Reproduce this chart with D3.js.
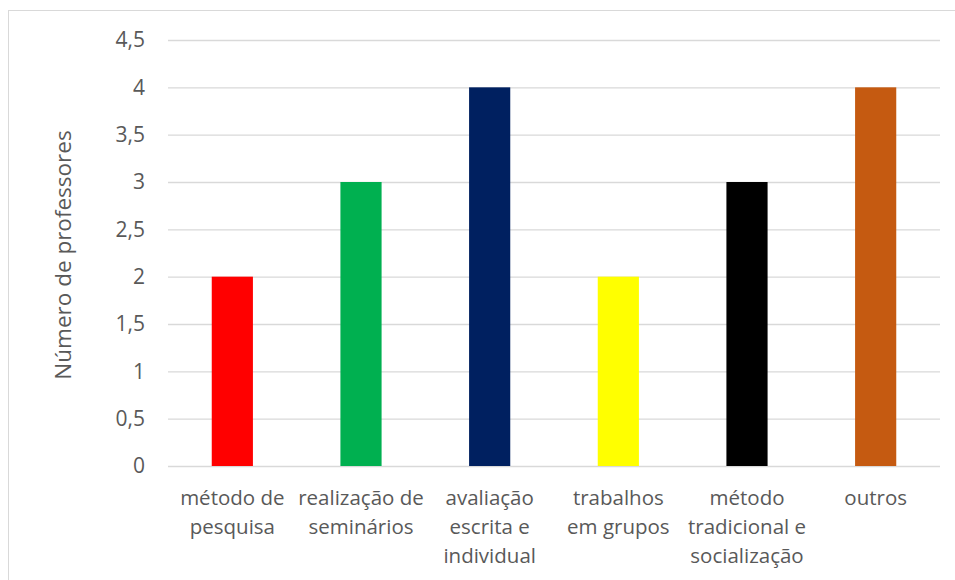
<!DOCTYPE html>
<html>
<head>
<meta charset="utf-8">
<script src="https://cdn.jsdelivr.net/npm/d3@7"></script>
<style>
  html, body { margin: 0; padding: 0; background: #fff; }
  svg { display: block; }
  text { font-family: "Open Sans", "Liberation Sans", sans-serif; fill: #595959; }
</style>
</head>
<body>
<svg id="chart" width="955" height="580"></svg>
<script>
// Teaching methods and number of teachers using each
const categories = [
  "método de\npesquisa",
  "realização de\nseminários",
  "avaliação\nescrita e\nindividual",
  "trabalhos\nem grupos",
  "método\ntradicional e\nsocialização",
  "outros"
];
const values = [2, 3, 4, 2, 3, 4];
const barColors = ["#FF0000", "#00B050", "#002060", "#FFFF00", "#000000", "#C55A11"];
const yTicks = [0, 0.5, 1, 1.5, 2, 2.5, 3, 3.5, 4, 4.5];
const yTitle = "Número de professores";

const svg = d3.select("#chart");

// chart frame
svg.append("rect")
  .attr("x", 8.5).attr("y", 10.5)
  .attr("width", 960).attr("height", 600)
  .attr("fill", "#fff")
  .attr("stroke", "#d9d9d9").attr("stroke-width", 1);

const plot = { left: 168, right: 940, top: 40, bottom: 466 };

const x = d3.scaleBand()
  .domain(categories)
  .range([plot.left, plot.right])
  .paddingInner(0.68).paddingOuter(0.34);

const y = d3.scaleLinear()
  .domain([0, 4.5])
  .range([plot.bottom, plot.top]);

const fmt = v => String(v).replace(".", ",");

// horizontal gridlines + tick labels via axis
const yAxis = d3.axisLeft(y)
  .tickValues(yTicks)
  .tickSize(-(plot.right - plot.left))
  .tickPadding(23)
  .tickFormat(fmt);

const gy = svg.append("g")
  .attr("transform", `translate(${plot.left},0)`)
  .call(yAxis);
gy.select(".domain").remove();
gy.selectAll(".tick line")
  .attr("stroke", "#d9d9d9").attr("stroke-width", 1.3);
gy.selectAll(".tick text")
  .attr("font-size", 21)
  .attr("fill", "#595959")
  .style("font-family", '"Open Sans", "Liberation Sans", sans-serif');

// bars
svg.append("g").selectAll("rect")
  .data(values)
  .join("rect")
  .attr("x", (d, i) => x(categories[i]))
  .attr("width", x.bandwidth())
  .attr("y", d => y(d))
  .attr("height", d => y(0) - y(d))
  .attr("fill", (d, i) => barColors[i]);

// category labels
const xAxis = d3.axisBottom(x).tickSize(0).tickFormat("");
const gx = svg.append("g")
  .attr("transform", `translate(0,${plot.bottom})`)
  .call(xAxis);
gx.select(".domain").remove();
gx.selectAll(".tick").each(function(cat) {
  const t = d3.select(this).append("text")
    .attr("text-anchor", "middle")
    .attr("font-size", 20.5)
    .attr("fill", "#595959")
    .style("font-family", '"Open Sans", "Liberation Sans", sans-serif');
  cat.split("\n").forEach((line, k) => {
    t.append("tspan")
      .attr("x", 0)
      .attr("y", 39 + k * 29)
      .text(line);
  });
});

// y axis title
svg.append("text")
  .attr("transform", `translate(71,${(plot.top + plot.bottom) / 2 + 2}) rotate(-90)`)
  .attr("text-anchor", "middle")
  .attr("font-size", 22.5)
  .attr("fill", "#595959")
  .text(yTitle);
</script>
</body>
</html>
